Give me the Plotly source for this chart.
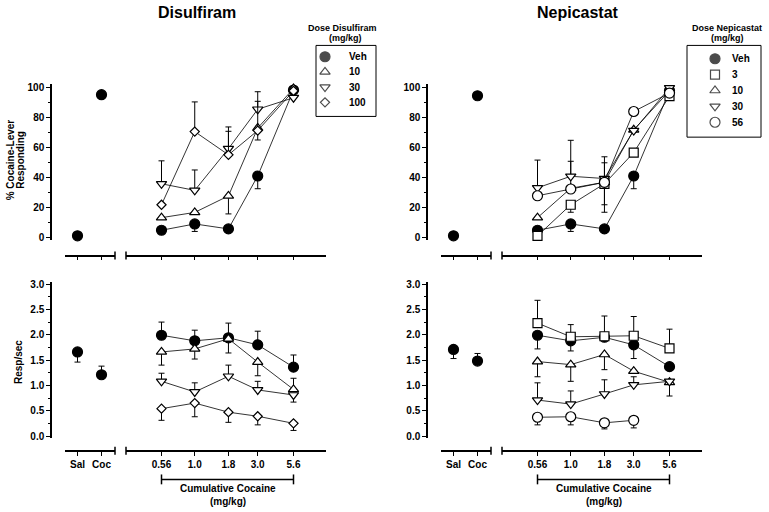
import math
import plotly.graph_objects as go

W, H = 769, 512

# ---------------- data ----------------
doses = [0.56, 1.0, 1.8, 3.0, 5.6]
dose_labels = ['0.56', '1.0', '1.8', '3.0', '5.6']
ctrl_labels = ['Sal', 'Coc']
ctrl_pos = [0, 1]

# Disulfiram: % cocaine-lever responding
dis_ctrl_pct = [1.3, 95.4]
dis_veh_pct = [5.0, 9.2, 5.9, 41.2, 98.5]
dis_veh_pct_dn = [0, 5.0, 0, 8.5, 0]
dis_10_pct = [13.4, 16.9, 27.9, 73.2, 99.5]
dis_10_pct_dn = [0, 0, 12.0, 8.0, 0]
dis_30_pct = [36.0, 31.6, 59.4, 85.7, 93.4]
dis_30_pct_up = [15.3, 13.6, 14.5, 11.7, 0]
dis_100_pct = [22.0, 70.8, 55.3, 71.5, 98.0]
dis_100_pct_up = [0, 19.8, 15.7, 19.5, 0]

# Disulfiram: response rate
dis_ctrl_rate = [1.66, 1.21]
dis_ctrl_rate_up = [0, 0.17]
dis_ctrl_rate_dn = [0.20, 0]
dis_veh_rate = [1.99, 1.88, 1.94, 1.80, 1.36]
dis_veh_rate_up = [0.26, 0.21, 0.29, 0.27, 0.24]
dis_10_rate = [1.66, 1.72, 1.92, 1.46, 0.92]
dis_10_rate_up = [0, 0, 0, 0, 0.22]
dis_10_rate_dn = [0.26, 0.20, 0.28, 0.27, 0]
dis_30_rate = [1.08, 0.87, 1.18, 0.91, 0.81]
dis_30_rate_up = [0.16, 0.18, 0.22, 0.17, 0]
dis_30_rate_dn = [0, 0, 0, 0, 0.14]
dis_100_rate = [0.54, 0.65, 0.47, 0.39, 0.25]
dis_100_rate_dn = [0.23, 0.27, 0.20, 0.17, 0.14]

# Nepicastat: % cocaine-lever responding
nep_ctrl_pct = [1.3, 94.7]
nep_veh_pct = [5.0, 9.2, 5.9, 41.2, 98.0]
nep_veh_pct_dn = [0, 5.0, 0, 8.5, 0]
nep_3_pct = [1.3, 22.0, 36.0, 56.8, 94.5]
nep_3_pct_dn = [0, 5.0, 14.0, 0, 0]
nep_10_pct = [13.4, 33.0, 37.0, 72.0, 98.0]
nep_10_pct_up = [0, 18.0, 0, 0, 0]
nep_10_pct_dn = [0, 0, 20.0, 0, 0]
nep_30_pct = [33.3, 41.0, 39.5, 71.5, 100.0]
nep_30_pct_up = [18.5, 24.0, 14.5, 0, 0]
nep_56_pct = [28.0, 32.5, 37.0, 84.2, 96.5]
nep_56_pct_up = [0, 0, 13.0, 0, 0]

# Nepicastat: response rate
nep_ctrl_rate = [1.71, 1.48]
nep_ctrl_rate_up = [0, 0.15]
nep_ctrl_rate_dn = [0.18, 0]
nep_veh_rate = [1.99, 1.88, 1.95, 1.80, 1.37]
nep_veh_rate_dn = [0.27, 0.20, 0, 0.27, 0]
nep_3_rate = [2.23, 1.96, 1.97, 1.98, 1.73]
nep_3_rate_up = [0.45, 0.24, 0.40, 0.38, 0.38]
nep_10_rate = [1.47, 1.41, 1.61, 1.28, 1.06]
nep_10_rate_dn = [0.30, 0.33, 0.30, 0, 0.27]
nep_30_rate = [0.71, 0.63, 0.83, 1.01, 1.08]
nep_30_rate_up = [0.34, 0.26, 0.28, 0.16, 0]
nep_56_rate = [0.37, 0.38, 0.26, 0.31, None]
nep_56_rate_dn = [0.15, 0.16, 0.12, 0.15, 0]

dis_legend = ['Veh', '10', '30', '100']
nep_legend = ['Veh', '3', '10', '30', '56']

# ---------------- styles ----------------
FONT = 'Liberation Sans, Arial, sans-serif'
STY = {
    'Veh': dict(symbol='circle', size=10, color='black'),
    '3': dict(symbol='square', size=9, color='white'),
    '10': dict(symbol='triangle-up', size=9, color='white'),
    '30': dict(symbol='triangle-down', size=9, color='white'),
    '56': dict(symbol='circle', size=10, color='white'),
    '100': dict(symbol='diamond', size=7, color='white'),
}


def px(x):
    return x / W


def py(y):
    return 1 - y / H


def zeros(n):
    return [0] * n


fig = go.Figure()


def add_series(xs, ys, up, dn, key, xa, ya, line=True):
    s = STY[key]
    n = len(ys)
    up = up if up is not None else zeros(n)
    dn = dn if dn is not None else zeros(n)
    fig.add_trace(go.Scatter(
        x=xs, y=ys, xaxis=xa, yaxis=ya, name=key, showlegend=False,
        mode='lines+markers' if line else 'markers',
        line=dict(color='black', width=0.8),
        marker=dict(symbol=s['symbol'], size=s['size'], color=s['color'],
                    line=dict(color='black', width=1.2)),
        error_y=dict(type='data', symmetric=False, array=up, arrayminus=dn,
                     color='black', thickness=1, width=3),
        cliponaxis=False, connectgaps=False,
    ))


# panel axes ids: (ctrl x, log x, y)
TL = ('x', 'x2', 'y')
BL = ('x3', 'x4', 'y2')
TR = ('x5', 'x6', 'y3')
BR = ('x7', 'x8', 'y4')

# Disulfiram top
add_series(ctrl_pos, dis_ctrl_pct, None, None, 'Veh', TL[0], TL[2], line=False)
add_series(doses, dis_veh_pct, None, dis_veh_pct_dn, 'Veh', TL[1], TL[2])
add_series(doses, dis_10_pct, None, dis_10_pct_dn, '10', TL[1], TL[2])
add_series(doses, dis_30_pct, dis_30_pct_up, None, '30', TL[1], TL[2])
add_series(doses, dis_100_pct, dis_100_pct_up, None, '100', TL[1], TL[2])
# Disulfiram bottom
add_series(ctrl_pos, dis_ctrl_rate, dis_ctrl_rate_up, dis_ctrl_rate_dn, 'Veh', BL[0], BL[2], line=False)
add_series(doses, dis_veh_rate, dis_veh_rate_up, None, 'Veh', BL[1], BL[2])
add_series(doses, dis_10_rate, dis_10_rate_up, dis_10_rate_dn, '10', BL[1], BL[2])
add_series(doses, dis_30_rate, dis_30_rate_up, dis_30_rate_dn, '30', BL[1], BL[2])
add_series(doses, dis_100_rate, None, dis_100_rate_dn, '100', BL[1], BL[2])
# Nepicastat top
add_series(ctrl_pos, nep_ctrl_pct, None, None, 'Veh', TR[0], TR[2], line=False)
add_series(doses, nep_veh_pct, None, nep_veh_pct_dn, 'Veh', TR[1], TR[2])
add_series(doses, nep_3_pct, None, nep_3_pct_dn, '3', TR[1], TR[2])
add_series(doses, nep_10_pct, nep_10_pct_up, nep_10_pct_dn, '10', TR[1], TR[2])
add_series(doses, nep_30_pct, nep_30_pct_up, None, '30', TR[1], TR[2])
add_series(doses, nep_56_pct, nep_56_pct_up, None, '56', TR[1], TR[2])
# Nepicastat bottom
add_series(ctrl_pos, nep_ctrl_rate, nep_ctrl_rate_up, nep_ctrl_rate_dn, 'Veh', BR[0], BR[2], line=False)
add_series(doses, nep_veh_rate, None, nep_veh_rate_dn, 'Veh', BR[1], BR[2])
add_series(doses, nep_3_rate, nep_3_rate_up, None, '3', BR[1], BR[2])
add_series(doses, nep_10_rate, None, nep_10_rate_dn, '10', BR[1], BR[2])
add_series(doses, nep_30_rate, nep_30_rate_up, None, '30', BR[1], BR[2])
add_series(doses, nep_56_rate, None, nep_56_rate_dn, '56', BR[1], BR[2])

# legend markers (custom boxed legends)
for labels, xa, ya in [(dis_legend, 'x9', 'y5'), (nep_legend, 'x10', 'y6')]:
    fig.add_trace(go.Scatter(
        x=[0] * len(labels), y=list(range(len(labels))), xaxis=xa, yaxis=ya,
        mode='markers', showlegend=False, hoverinfo='skip', cliponaxis=False,
        marker=dict(symbol=[STY[k]['symbol'] for k in labels],
                    size=[STY[k]['size'] for k in labels],
                    color=[STY[k]['color'] for k in labels],
                    line=dict(color='black', width=1.2)),
    ))

# ---------------- axes ----------------
tickfont = dict(family=FONT, size=10, color='black', weight='bold')
layout = dict(width=W, height=H, margin=dict(l=0, r=0, t=0, b=0),
              paper_bgcolor='white', plot_bgcolor='white', showlegend=False,
              font=dict(family=FONT, color='black'))

LOG_L, LOG_R, LOG_REF = 126, 326, 161.5
PPD = 132.0
CTL_L, CTL_R, CTL_REF, CTL_PPU = 65, 115, 77.5, 24.0


def ctrl_axis(off, ypos, labels_on):
    return dict(domain=[px(CTL_L + off), px(CTL_R + off)], anchor='free', position=py(ypos),
                range=[(CTL_L - CTL_REF) / CTL_PPU, (CTL_R - CTL_REF) / CTL_PPU],
                tickvals=ctrl_pos, ticktext=ctrl_labels, showticklabels=labels_on,
                ticks='outside', ticklen=4, tickwidth=1.2, tickcolor='black',
                showline=True, linecolor='black', linewidth=1.5, showgrid=False,
                zeroline=False, tickfont=tickfont, fixedrange=True)


def log_axis(off, ypos, labels_on):
    l0 = math.log10(doses[0])
    return dict(domain=[px(LOG_L + off), px(LOG_R + off)], anchor='free', position=py(ypos),
                type='log',
                range=[l0 - (LOG_REF - LOG_L) / PPD, l0 + (LOG_R - LOG_REF) / PPD],
                tickvals=doses, ticktext=dose_labels, showticklabels=labels_on,
                ticks='outside', ticklen=4, tickwidth=1.2, tickcolor='black',
                showline=True, linecolor='black', linewidth=1.5, showgrid=False,
                zeroline=False, tickfont=tickfont, fixedrange=True)


def val_axis(xpos, dtop, dbot, ref_px, ppu, dtick, minor_dtick, fmt):
    return dict(domain=[py(dbot), py(dtop)], anchor='free', position=px(xpos),
                range=[-(dbot - ref_px) / ppu, (ref_px - dtop) / ppu],
                tick0=0, dtick=dtick, tickformat=fmt,
                ticks='outside', ticklen=4, tickwidth=1.2, tickcolor='black',
                minor=dict(dtick=minor_dtick, ticks='outside', ticklen=2,
                           tickwidth=1, tickcolor='black'),
                showline=True, linecolor='black', linewidth=1.5, showgrid=False,
                zeroline=False, tickfont=tickfont, fixedrange=True)


OFF = 376
TOP_X, BOT_X = 256, 454
layout['xaxis'] = ctrl_axis(0, TOP_X, False)
layout['xaxis2'] = log_axis(0, TOP_X, False)
layout['xaxis3'] = ctrl_axis(0, BOT_X, True)
layout['xaxis4'] = log_axis(0, BOT_X, True)
layout['xaxis5'] = ctrl_axis(OFF, TOP_X, False)
layout['xaxis6'] = log_axis(OFF, TOP_X, False)
layout['xaxis7'] = ctrl_axis(OFF, BOT_X, True)
layout['xaxis8'] = log_axis(OFF, BOT_X, True)

layout['yaxis'] = val_axis(51, 82, 240, 238, 1.52, 20, 10, 'd')
layout['yaxis2'] = val_axis(51, 283, 441, 439, 51.33, 0.5, 0.25, '.1f')
layout['yaxis3'] = val_axis(51 + OFF, 82, 240, 238, 1.52, 20, 10, 'd')
layout['yaxis4'] = val_axis(51 + OFF, 283, 441, 439, 51.33, 0.5, 0.25, '.1f')


# legend axes (invisible)
def leg_axes(xl, xr, xmark, yt, yb, yfirst, step):
    xa = dict(domain=[px(xl), px(xr)], anchor='free', position=py(yb),
              range=[xl - xmark, xr - xmark], visible=False, fixedrange=True)
    ya = dict(domain=[py(yb), py(yt)], anchor='free', position=px(xl),
              range=[(yb - yfirst) / step, (yt - yfirst) / step], visible=False, fixedrange=True)
    return xa, ya


layout['xaxis9'], layout['yaxis5'] = leg_axes(316, 376, 325, 43, 115, 54.5, 15.4)
layout['xaxis10'], layout['yaxis6'] = leg_axes(687, 761, 715, 43, 136, 56.5, 16.1)

fig.update_layout(**layout)

# ---------------- annotations ----------------
ann = []


def text(t, x, y, size, angle=0, xanchor='center', xref='paper', yref='paper'):
    ann.append(dict(text=t, x=x, y=y, xref=xref, yref=yref, showarrow=False,
                    xanchor=xanchor, yanchor='middle', textangle=angle,
                    font=dict(family=FONT, size=size, color='black', weight='bold')))


text('Disulfiram', px(197), py(10), 16)
text('Nepicastat', px(578), py(10), 16)
text('Dose Disulfiram', px(342), py(25), 9)
text('(mg/kg)', px(345), py(35), 9)
text('Dose Nepicastat', px(727), py(25), 9)
text('(mg/kg)', px(727), py(35), 9)
text('% Cocaine-Lever', px(10.5), py(159), 10, angle=-90)
text('Responding', px(21), py(159), 10, angle=-90)
text('Resp/sec', px(18), py(364), 10, angle=-90)
for off in (0, OFF):
    text('Cumulative Cocaine', px(228 + off), py(492), 10)
    text('(mg/kg)', px(228 + off), py(505), 10)

for labels, xa, ya, tx in [(dis_legend, 'x9', 'y5', 22), (nep_legend, 'x10', 'y6', 15)]:
    for i, lab in enumerate(labels):
        text(lab, tx, i, 10, xanchor='left', xref=xa, yref=ya)

# ---------------- shapes ----------------
shapes = []
LINE = dict(color='black', width=1.5)
for (cx, lx, _), ypos in [(TL, TOP_X), (BL, BOT_X), (TR, TOP_X), (BR, BOT_X)]:
    shapes.append(dict(type='line', xref=cx + ' domain', x0=1, x1=1, yref='paper',
                       y0=py(ypos - 4), y1=py(ypos + 4), line=LINE))
    shapes.append(dict(type='line', xref=lx + ' domain', x0=0, x1=0, yref='paper',
                       y0=py(ypos - 4), y1=py(ypos + 4), line=LINE))

lo, hi = doses[0], doses[-1]
for lx in (BL[1], BR[1]):
    shapes.append(dict(type='line', xref=lx, x0=lo, x1=hi, yref='paper',
                       y0=py(483), y1=py(483), line=LINE))
    for xv in (lo, hi):
        shapes.append(dict(type='line', xref=lx, x0=xv, x1=xv, yref='paper',
                           y0=py(478), y1=py(488), line=LINE))

shapes.append(dict(type='rect', xref='paper', yref='paper', x0=px(316), x1=px(376),
                   y0=py(115), y1=py(43), line=dict(color='black', width=1)))
shapes.append(dict(type='rect', xref='paper', yref='paper', x0=px(687), x1=px(761),
                   y0=py(136), y1=py(43), line=dict(color='black', width=1)))

fig.update_layout(annotations=ann, shapes=shapes)

fig.write_html('out.html', config={'displayModeBar': False},
               post_script="document.body.style.margin='0';")
